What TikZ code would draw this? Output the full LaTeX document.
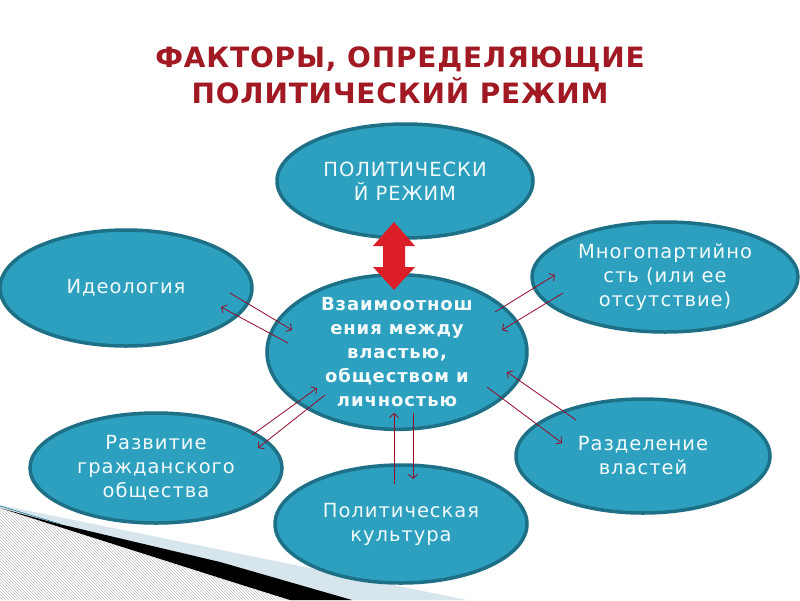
\documentclass[tikz,border=0pt]{standalone}
\usepackage{fontspec}
\usetikzlibrary{shapes.geometric,arrows.meta,patterns}
\newfontfamily\nodefont[LetterSpace=5]{DejaVu Sans}
\newfontfamily\titlefont[LetterSpace=3]{DejaVu Sans}
\definecolor{ellfill}{RGB}{44,160,190}
\definecolor{elldraw}{RGB}{30,112,135}
\definecolor{elltext}{RGB}{242,250,252}
\definecolor{titlered}{RGB}{160,25,35}
\definecolor{bigred}{RGB}{220,30,40}
\definecolor{thinred}{RGB}{150,10,40}
\definecolor{lightband}{RGB}{214,230,236}
\tikzset{
  oval/.style={ellipse, draw=elldraw, fill=ellfill, line width=3.5pt, inner sep=0pt,
    text=elltext, align=center, font=\nodefont\fontsize{19.5}{24}\selectfont},
  link/.style={draw=thinred, line width=0.8pt, -{Straight Barb[length=4pt,width=9pt]}}
}
\begin{document}
\begin{tikzpicture}[x=1pt,y=-1pt]
\useasboundingbox (0,0) rectangle (800,600);
\fill[white] (0,0) rectangle (800,600);
% decoration bottom-left
\fill[lightband] (0,505) -- (467,600) -- (0,600) -- cycle;
\fill[white] (0,508) -- (220,578) -- (290,600) -- (0,600) -- cycle;
\fill[pattern=north west lines, pattern color=gray!50] (0,508) -- (220,578) -- (290,600) -- (0,600) -- cycle;
\fill[black] (55,523) -- (220,562) -- (352,600) -- (290,600) -- (220,578) -- (0,508) -- cycle;
\draw[elldraw, line width=0.6pt] (0,506) -- (60,524);
% title
\node[text=titlered, align=center, font=\titlefont\bfseries\fontsize{28}{36}\selectfont] (title) at (400,75)
  {ФАКТОРЫ, ОПРЕДЕЛЯЮЩИЕ\\ПОЛИТИЧЕСКИЙ РЕЖИМ};
% ellipses
\node[oval, minimum width=256pt, minimum height=114pt] (regime) at (405,181) {ПОЛИТИЧЕСКИ\\Й РЕЖИМ};
\node[oval, minimum width=252pt, minimum height=116pt] (ideo) at (126,288) {Идеология};
\node[oval, minimum width=266pt, minimum height=110pt] (multi) at (665,277) {Многопартийно\\сть (или ее\\отсутствие)};
\node[oval, minimum width=254pt, minimum height=114pt] (sep) at (643,456) {Разделение\\властей};
\node[oval, minimum width=252pt, minimum height=110pt] (civil) at (156,468) {Развитие\\гражданского\\общества};
\node[oval, minimum width=252pt, minimum height=118pt] (cult) at (401,524) {Политическая\\культура};
\node[oval, minimum width=260pt, minimum height=144pt, font=\nodefont\bfseries\fontsize{18}{24}\selectfont] (rel) at (397,352)
  {Взаимоотнош\\ения между\\властью,\\обществом и\\личностью};
% big red double arrow
\fill[bigred] (394,222) -- (415,246) -- (405,246) -- (405,267) -- (415,267) -- (394,290)
  -- (373,267) -- (383,267) -- (383,246) -- (373,246) -- cycle;
% thin arrows
\coordinate (a1) at (230,293); \coordinate (a2) at (292,330);
\coordinate (b1) at (288,343); \coordinate (b2) at (221,307);
\draw[link] (a1) -- (a2);
\draw[link] (b1) -- (b2);
\coordinate (c1) at (495,312); \coordinate (c2) at (555,275);
\coordinate (d1) at (563,293); \coordinate (d2) at (502,330);
\draw[link] (c1) -- (c2);
\draw[link] (d1) -- (d2);
\coordinate (e1) at (576,420); \coordinate (e2) at (507,372);
\coordinate (f1) at (487,387); \coordinate (f2) at (562,443);
\draw[link] (e1) -- (e2);
\draw[link] (f1) -- (f2);
\coordinate (g1) at (252,435); \coordinate (g2) at (317,388);
\coordinate (h1) at (325,395); \coordinate (h2) at (258,448);
\draw[link] (g1) -- (g2);
\draw[link] (h1) -- (h2);
\coordinate (i1) at (394,484); \coordinate (i2) at (394,413);
\coordinate (j1) at (413,413); \coordinate (j2) at (413,479);
\draw[link] (i1) -- (i2);
\draw[link] (j1) -- (j2);
\end{tikzpicture}
\end{document}
